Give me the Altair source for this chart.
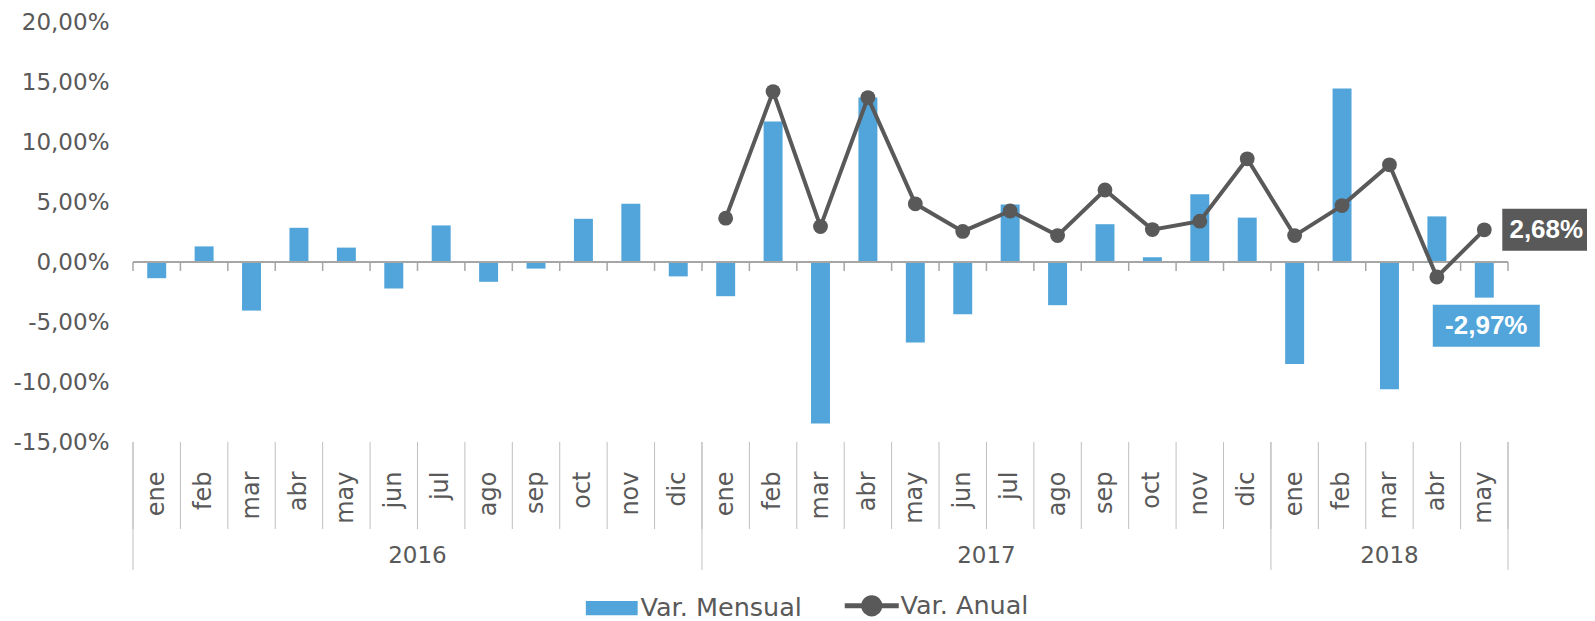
import altair as alt
import pandas as pd

# ---------------- data ----------------
months = ["ene", "feb", "mar", "abr", "may", "jun", "jul", "ago", "sep", "oct", "nov", "dic"]
years = ["2016"] * 12 + ["2017"] * 12 + ["2018"] * 5
month_list = months * 2 + months[:5]

var_mensual = [-1.35, 1.3, -4.05, 2.85, 1.2, -2.2, 3.05, -1.65, -0.55, 3.6, 4.85, -1.2,
               -2.85, 11.7, -13.45, 13.7, -6.7, -4.35, 4.8, -3.6, 3.15, 0.4, 5.65, 3.7,
               -8.5, 14.45, -10.6, 3.8, -2.97]
# Var. Anual starts in ene-2017
var_anual = [3.65, 14.2, 2.95, 13.7, 4.85, 2.55, 4.25, 2.2, 6.0, 2.7, 3.4, 8.6,
             2.2, 4.7, 8.1, -1.25, 2.68]

series_names = ["Var. Mensual", "Var. Anual"]
y_ticks = [-15, -10, -5, 0, 5, 10, 15, 20]

keys = [f"{y}-{m}" for y, m in zip(years, month_list)]

df = pd.DataFrame({"key": keys, "mes": month_list, "anio": years,
                   "mensual": var_mensual, "serie": series_names[0]})
df_anual = pd.DataFrame({"key": keys[12:], "anual": var_anual})
df_first = df.iloc[[0]]
df_zero = pd.DataFrame({"v": [0]})

# year groups
year_starts = pd.DataFrame({"key": ["2016-ene", "2017-ene", "2018-ene"]})
year_end = pd.DataFrame({"key": [keys[-1]]})
year_mid_a = pd.DataFrame({"key": ["2016-jul", "2017-jul"], "anio": ["2016", "2017"]})
year_mid_b = pd.DataFrame({"key": ["2018-mar"], "anio": ["2018"]})


def fmt(v):
    return ("-" if v < 0 else "") + f"{abs(v):.2f}".replace(".", ",") + "%"


lab_anual = pd.DataFrame({"key": [keys[-1]], "v": [var_anual[-1]], "t": [fmt(var_anual[-1])]})
lab_mensual = pd.DataFrame({"key": [keys[-1]], "v": [var_mensual[-1]], "t": [fmt(var_mensual[-1])]})

# ---------------- style ----------------
BLUE = "#52A5DA"
GRAY = "#595959"
AXGRAY = "#A6A6A6"
SEPGRAY = "#BFBFBF"
FONT = "DejaVu Sans"
W, H = 1375, 420

xscale = alt.Scale(domain=keys, paddingInner=0, paddingOuter=0)
yscale = alt.Scale(domain=[-15, 20], nice=False, zero=False)

x_main = alt.X("key:N", scale=xscale, title=None,
               axis=alt.Axis(labelExpr="split(datum.value, '-')[1]", labelAngle=270,
                             labelPadding=29, ticks=False, domain=False,
                             labelFontSize=24, labelColor=GRAY, labelFont=FONT))
y_main = alt.Y("mensual:Q", scale=yscale, title=None,
               axis=alt.Axis(values=y_ticks, grid=False, ticks=False, domain=False,
                             labelExpr="(datum.value < 0 ? '-' : '') + replace(format(abs(datum.value), '.2f'), '.', ',') + '%'",
                             labelFontSize=23, labelPadding=24, labelColor=GRAY, labelFont=FONT))

legend = alt.Legend(
    title=None, orient="none", legendX=450, legendY=571, direction="horizontal",
    symbolType=alt.ExprRef("datum.value === 'Var. Mensual' ? 'M-0.96,-0.26H0.96V0.26H-0.96Z' : 'M-1,0H1M0.3,0A0.3,0.3 0 1 1 -0.3,0A0.3,0.3 0 1 1 0.3,0'"),
    symbolStrokeWidth=alt.ExprRef("datum.value === 'Var. Mensual' ? 0 : 5"),
    symbolStrokeColor=GRAY, symbolSize=2916, symbolOpacity=1, symbolOffset=16,
    labelFontSize=25.5, labelColor=GRAY, labelFont=FONT, labelOffset=16, labelLimit=400,
    columnPadding=32,
)

bars = alt.Chart(df).mark_bar(width=alt.RelativeBandSize(0.4)).encode(
    x=x_main, y=y_main,
    color=alt.Color("serie:N", scale=alt.Scale(domain=series_names, range=[BLUE, GRAY]), legend=legend),
)

zero_line = alt.Chart(df_zero).mark_rule(color=AXGRAY, strokeWidth=2).encode(
    y=alt.Y("v:Q", scale=yscale, title=None))

zero_ticks = alt.Chart(df).mark_rule(color=AXGRAY, strokeWidth=1.5).encode(
    x=alt.X("key:N", bandPosition=1), y=alt.datum(0), y2=alt.datum(-0.75))
zero_tick0 = alt.Chart(df_first).mark_rule(color=AXGRAY, strokeWidth=1.5).encode(
    x=alt.X("key:N", bandPosition=0), y=alt.datum(0), y2=alt.datum(-0.75))

month_seps = alt.Chart(df).mark_rule(color=SEPGRAY, strokeWidth=1).encode(
    x=alt.X("key:N", bandPosition=1), y=alt.value(H), y2=alt.value(H + 87))
month_sep0 = alt.Chart(df_first).mark_rule(color=SEPGRAY, strokeWidth=1).encode(
    x=alt.X("key:N", bandPosition=0), y=alt.value(H), y2=alt.value(H + 87))

year_seps = alt.Chart(year_starts).mark_rule(color=SEPGRAY, strokeWidth=1).encode(
    x=alt.X("key:N", bandPosition=0), y=alt.value(H), y2=alt.value(H + 128))
year_sep_end = alt.Chart(year_end).mark_rule(color=SEPGRAY, strokeWidth=1).encode(
    x=alt.X("key:N", bandPosition=1), y=alt.value(H), y2=alt.value(H + 128))

year_text_a = alt.Chart(year_mid_a).mark_text(fontSize=23, color=GRAY, font=FONT).encode(
    x=alt.X("key:N", bandPosition=0), y=alt.value(H + 114), text="anio:N")
year_text_b = alt.Chart(year_mid_b).mark_text(fontSize=23, color=GRAY, font=FONT).encode(
    x=alt.X("key:N", bandPosition=0.5), y=alt.value(H + 114), text="anio:N")

line = alt.Chart(df_anual).mark_line(color=GRAY, strokeWidth=4).encode(
    x=alt.X("key:N"), y=alt.Y("anual:Q", scale=yscale, title=None))
points = alt.Chart(df_anual).mark_point(filled=True, color=GRAY, size=220, opacity=1).encode(
    x=alt.X("key:N"), y=alt.Y("anual:Q", scale=yscale, title=None))

box_a = alt.Chart(lab_anual).mark_point(
    shape="M-1,-0.477H1V0.477H-1Z", filled=True, size=7744, color=GRAY, opacity=1,
    strokeWidth=0, xOffset=62).encode(x=alt.X("key:N"), y=alt.Y("v:Q", scale=yscale, title=None))
text_a = alt.Chart(lab_anual).mark_text(
    font="Liberation Sans", fontWeight="bold", fontSize=26, color="white", xOffset=62).encode(
    x=alt.X("key:N"), y=alt.Y("v:Q", scale=yscale, title=None), text="t:N")

box_m = alt.Chart(lab_mensual).mark_point(
    shape="M-1,-0.3925H1V0.3925H-1Z", filled=True, size=11449, color=BLUE, opacity=1,
    strokeWidth=0, xOffset=2, yOffset=28).encode(x=alt.X("key:N"), y=alt.Y("v:Q", scale=yscale, title=None))
text_m = alt.Chart(lab_mensual).mark_text(
    font="Liberation Sans", fontWeight="bold", fontSize=26, color="white", xOffset=2, yOffset=28).encode(
    x=alt.X("key:N"), y=alt.Y("v:Q", scale=yscale, title=None), text="t:N")

chart = alt.layer(
    bars, zero_line, zero_ticks, zero_tick0, month_seps, month_sep0, year_seps, year_sep_end,
    year_text_a, year_text_b, line, points, box_a, text_a, box_m, text_m
).properties(
    width=W, height=H,
    padding={"left": 125, "top": 14, "right": 79, "bottom": 186},
    autosize=alt.AutoSizeParams(type="none"),
    background="white",
).configure_view(stroke=None)

chart.save("out.html", embed_options={"renderer": "svg", "actions": False})
